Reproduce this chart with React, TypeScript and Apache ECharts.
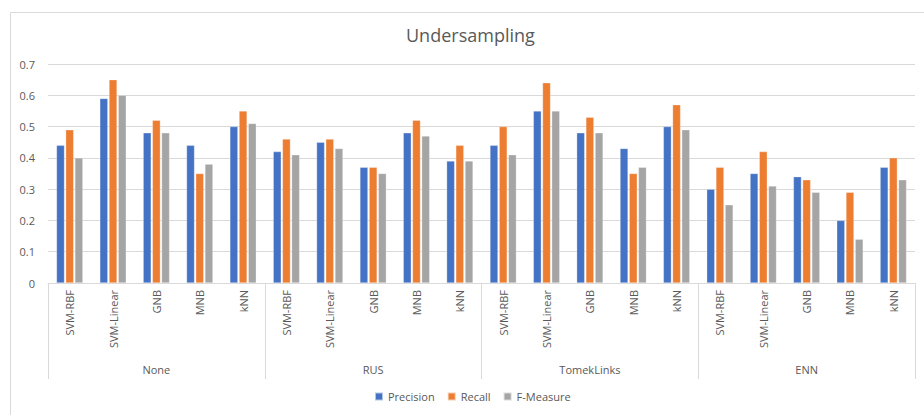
import React, { useEffect, useRef } from "react";
import * as echarts from "echarts";

const groups = ["None", "RUS", "TomekLinks", "ENN"];
const models = ["SVM-RBF", "SVM-Linear", "GNB", "MNB", "kNN"];
const seriesNames = ["Precision", "Recall", "F-Measure"];
const colors = ["#4472C4", "#ED7D31", "#A5A5A5"];

// values per group, in model order
const precision = [
  0.44, 0.59, 0.48, 0.44, 0.50,
  0.42, 0.45, 0.37, 0.48, 0.39,
  0.44, 0.55, 0.48, 0.43, 0.50,
  0.30, 0.35, 0.34, 0.20, 0.37,
];
const recall = [
  0.49, 0.65, 0.52, 0.35, 0.55,
  0.46, 0.46, 0.37, 0.52, 0.44,
  0.50, 0.64, 0.53, 0.35, 0.57,
  0.37, 0.42, 0.33, 0.29, 0.40,
];
const fMeasure = [
  0.40, 0.60, 0.48, 0.38, 0.51,
  0.41, 0.43, 0.35, 0.47, 0.39,
  0.41, 0.55, 0.48, 0.37, 0.49,
  0.25, 0.31, 0.29, 0.14, 0.33,
];
const yTicks = [0, 0.1, 0.2, 0.3, 0.4, 0.5, 0.6, 0.7];

const FONT = "'Open Sans', sans-serif";
const TXT = "#595959";
const GRID = "#D9D9D9";

export default function App() {
  const ref = useRef<HTMLDivElement>(null);
  useEffect(() => {
    if (!ref.current) return;
    const chart = echarts.init(ref.current, undefined, { renderer: "svg" });
    const cats: string[] = [];
    groups.forEach(() => models.forEach((m) => cats.push(m)));
    const data = [precision, recall, fMeasure];
    chart.setOption({
      animation: false,
      textStyle: { fontFamily: FONT },
      title: {
        text: "Undersampling",
        left: 401,
        top: 21,
        textStyle: { fontFamily: FONT, fontSize: 18, fontWeight: "normal", color: TXT },
      },
      graphic: [
        {
          type: "rect",
          shape: { x: 10.5, y: 12.5, width: 930, height: 420 },
          style: { fill: "none", stroke: GRID, lineWidth: 1 },
          silent: true,
        },
      ],
      legend: {
        bottom: 8,
        left: 369,
        itemWidth: 8,
        itemHeight: 8,
        itemGap: 12,
        icon: "rect",
        textStyle: { fontFamily: FONT, fontSize: 11, color: TXT },
        data: seriesNames,
      },
      grid: { left: 48, right: 9, top: 64, bottom: 132, containLabel: false },
      xAxis: [
        {
          type: "category",
          data: cats,
          position: "bottom",
          axisLine: { show: true, lineStyle: { color: GRID } },
          axisTick: { show: false },
          axisLabel: {
            rotate: 90,
            interval: 0,
            margin: 7,
            fontFamily: FONT,
            fontSize: 11,
            color: TXT,
          },
        },
        {
          type: "category",
          data: groups,
          position: "bottom",
          offset: 0,
          axisLine: { show: false },
          axisTick: { show: true, length: 96, lineStyle: { color: GRID } },
          axisLabel: { margin: 81, fontFamily: FONT, fontSize: 11, color: TXT },
          splitLine: { show: false },
        },
      ],
      yAxis: {
        type: "value",
        min: 0,
        max: 0.7,
        interval: 0.1,
        axisLine: { show: false },
        axisTick: { show: false },
        splitLine: { lineStyle: { color: GRID } },
        axisLabel: {
          margin: 13,
          fontFamily: FONT,
          fontSize: 11,
          color: TXT,
          formatter: (v: number) => {
            const t = yTicks.find((x) => Math.abs(x - v) < 1e-9);
            return t === 0 ? "0" : String(Number((t ?? v).toFixed(1)));
          },
        },
      },
      series: seriesNames.map((name, i) => ({
        name,
        type: "bar",
        xAxisIndex: 0,
        data: data[i],
        barWidth: 8,
        barGap: "15%",
        itemStyle: { color: colors[i], borderColor: "rgba(255,255,255,0.6)", borderWidth: 0.5 },
      })),
    });
    return () => chart.dispose();
  }, []);
  return (
    <div
      ref={ref}
      style={{ position: "fixed", left: 0, top: 0, width: 924, height: 415, background: "#fff" }}
    />
  );
}
